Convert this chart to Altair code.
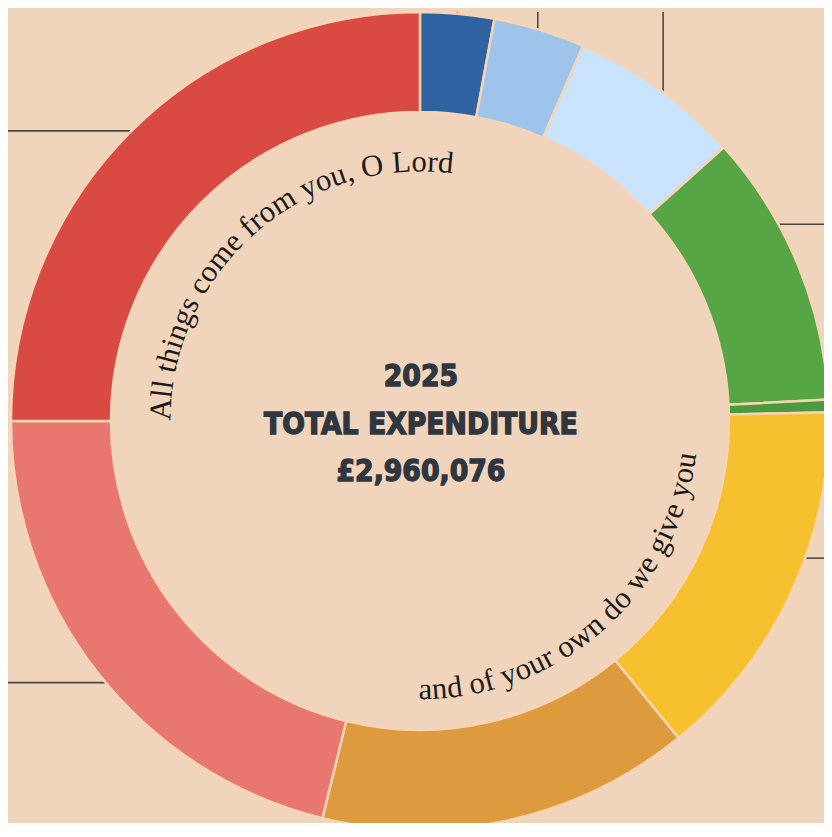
import math
import altair as alt
import pandas as pd

# ---------------- data ----------------
categories = ["Parish Share", "Clergy Housing", "Church Running Costs", "Buildings & Repairs",
              "Insurance", "Staff Costs", "Mission & Giving", "Worship & Music", "Administration"]
amounts = [86334, 106892, 201450, 320675, 14800, 427566, 435789, 626549, 740021]
colors = ["#2e62a0", "#9fc4ec", "#c8e3fb", "#56a646", "#4c9a3e",
          "#f6c02f", "#de9b3d", "#e8786f", "#d84a42"]
# where each label's leader line leaves its slice (share of the slice) and which way it runs
leader_frac = [0.5, 0.48, 0.53, 0.34, 0.5, 0.40, 0.5, 0.478, 0.502]
leader_dirs = ["up", "up", "up", "right", "right", "right", "down", "left", "left"]
year = "2025"
heading = "TOTAL EXPENDITURE"
verse_top = "All things come from you, O Lord"
verse_bottom = "and of your own do we give you"

# ---------------- layout ----------------
W, H = 824, 815
CX, CY = 416, 413
R_OUT, R_IN = 413, 312
BG = "#f0d5bc"

total = sum(amounts)
total_str = f"£{total:,}"

df = pd.DataFrame({"category": categories, "amount": amounts, "idx": list(range(len(categories)))})

arcs = alt.Chart(df).mark_arc(
    outerRadius=R_OUT, innerRadius=R_IN, stroke="#f7d4b4", strokeWidth=2.5
).encode(
    theta=alt.Theta("amount:Q", stack=True),
    order=alt.Order("idx:Q"),
    color=alt.Color("category:N", scale=alt.Scale(domain=categories, range=colors), legend=None),
    x=alt.value(CX), y=alt.value(CY),
)

# leader lines (unit-circle coordinates)
x_left, x_right = -CX / R_OUT, (W - CX) / R_OUT
y_top, y_bottom = CY / R_OUT, -(H - CY) / R_OUT
rows = []
cum = 0
for cat, a, fr, d in zip(categories, amounts, leader_frac, leader_dirs):
    mid = 2 * math.pi * (cum + a * fr) / total
    cum += a
    ux, uy = math.sin(mid), math.cos(mid)
    if d == "left":
        x2, y2 = x_left, uy
    elif d == "right":
        x2, y2 = x_right, uy
    elif d == "up":
        x2, y2 = ux, y_top
    else:
        x2, y2 = ux, y_bottom
    rows.append({"category": cat, "x": ux, "y": uy, "x2": x2, "y2": y2})
ldf = pd.DataFrame(rows)
xs = alt.Scale(domain=[x_left, x_right], nice=False, zero=False)
ys = alt.Scale(domain=[y_bottom, y_top], nice=False, zero=False)
leaders = alt.Chart(ldf).mark_rule(color="#4a4744", strokeWidth=1.6).encode(
    x=alt.X("x:Q", scale=xs, axis=None),
    y=alt.Y("y:Q", scale=ys, axis=None),
    x2="x2:Q", y2="y2:Q",
)

# curved verse text, character by character
WIDTHS = {" ": 250, ",": 250, "A": 722, "L": 611, "O": 722, "a": 444, "c": 444, "d": 500,
          "e": 444, "f": 333, "g": 500, "h": 500, "i": 278, "l": 278, "m": 778, "n": 500,
          "o": 500, "r": 333, "s": 389, "t": 278, "u": 500, "v": 500, "w": 722, "y": 500}


def arc_chars(text, start, end, radius, inward):
    ws = [WIDTHS.get(c, 500) for c in text]
    tot = sum(ws)
    c0 = 0
    out = []
    for ch, w in zip(text, ws):
        f = (c0 + w / 2) / tot
        c0 += w
        ang = start + (end - start) * f
        rot = (ang - 180) if inward else ang
        out.append({"ch": ch, "theta": math.radians(ang), "r": radius, "rot": rot % 360})
    return out


vdf = pd.DataFrame(arc_chars(verse_top, 270.0, 367.5, 252, False)
                   + arc_chars(verse_bottom, 180.3, 96.8, 281, True))
verse = alt.Chart(vdf).mark_text(
    font="Liberation Serif", fontSize=31, color="#1c1a18", align="center", baseline="alphabetic"
).encode(
    theta=alt.Theta("theta:Q", scale=None),
    radius=alt.Radius("r:Q", scale=None),
    angle=alt.Angle("rot:Q", scale=None),
    text="ch:N",
    x=alt.value(CX), y=alt.value(CY),
)

center = alt.Chart(pd.DataFrame({"k": [0]})).mark_text(
    font="DejaVu Sans Condensed", fontWeight="bold", fontSize=30, lineHeight=48,
    color="#30363f", stroke="#30363f", strokeWidth=1.3, align="center", baseline="middle"
).encode(
    text=alt.value([year, heading, total_str]),
    x=alt.value(CX + 1), y=alt.value(CY - 44),
)

chart = alt.layer(leaders, arcs, verse, center).resolve_scale(theta="independent").properties(
    width=W, height=H, autosize="none", padding=0, background=BG
).configure_view(stroke=None)

chart.save("out.html", embed_options={"renderer": "svg", "actions": False})
